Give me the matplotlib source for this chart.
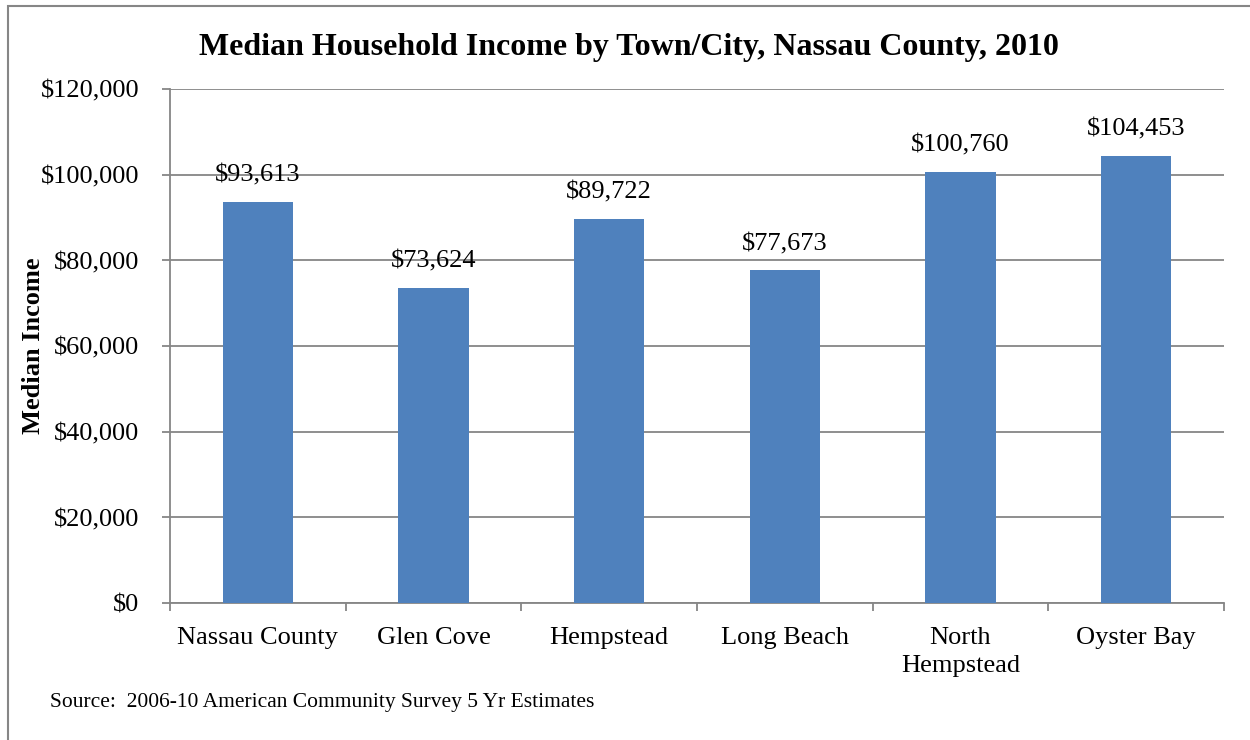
import matplotlib.pyplot as plt
from matplotlib.patches import Rectangle
import numpy as np

plt.rcParams['font.family'] = ['Liberation Serif', 'DejaVu Serif']

towns = ['Nassau County', 'Glen Cove', 'Hempstead', 'Long Beach', 'North\nHempstead', 'Oyster Bay']
income = [93613, 73624, 89722, 77673, 100760, 104453]
yticks = [0, 20000, 40000, 60000, 80000, 100000, 120000]

fig = plt.figure(figsize=(12.5, 7.4), dpi=100)
ax = fig.add_axes([0.136, 0.185, 0.8432, 0.6946])

x = np.arange(len(towns))
ax.bar(x, income, width=0.4, color='#4F81BD', zorder=3)
for xi, v in zip(x, income):
    ax.annotate('${:,}'.format(v), (xi, v), xytext=(0, 11), textcoords='offset points',
                ha='center', va='bottom', fontsize=19)

ax.set_xlim(-0.5, len(towns) - 0.5)
ax.set_ylim(0, 120000)
ax.set_yticks(yticks)
ax.set_yticklabels(['${:,}'.format(t) for t in yticks], fontsize=19)
ax.yaxis.grid(True, color='#868686', linewidth=1.3, zorder=0)

# category boundary ticks, labels in the middle
ax.set_xticks(np.arange(len(towns) + 1) - 0.5)
ax.set_xticklabels([])
ax.set_xticks(x, minor=True)
ax.set_xticklabels(towns, minor=True, fontsize=19, linespacing=1.35)
ax.tick_params(axis='x', which='minor', length=0, pad=17)
ax.tick_params(axis='x', which='major', length=6, width=1.3, color='#868686')
ax.tick_params(axis='y', length=6, width=1.3, color='#868686', pad=16)

for s in ['top', 'right']:
    ax.spines[s].set_visible(False)
for s in ['left', 'bottom']:
    ax.spines[s].set_color('#868686')
    ax.spines[s].set_linewidth(1.3)

ax.set_ylabel('Median Income', fontsize=19, fontweight='bold')
ax.yaxis.set_label_coords(-0.119, 0.5)

fig.text(0.503, 0.936, 'Median Household Income by Town/City, Nassau County, 2010',
         ha='center', va='center', fontsize=23, fontweight='bold')
fig.text(0.04, 0.051, 'Source:  2006-10 American Community Survey 5 Yr Estimates',
         ha='left', va='center', fontsize=15.5)

# chart frame (only top and left edges fall inside the picture)
fig.patches.append(Rectangle((0.0064, -0.05), 1.1, 1.042, transform=fig.transFigure,
                             fill=False, edgecolor='#868686', linewidth=1.5))

fig.savefig('out.png', dpi=100)
